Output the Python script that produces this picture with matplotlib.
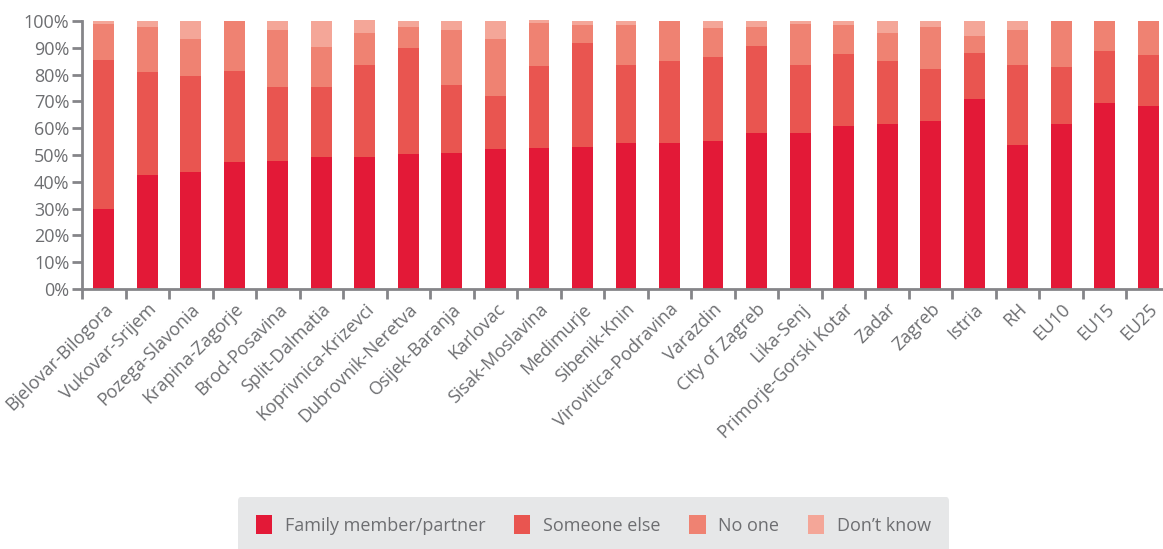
import matplotlib.pyplot as plt
import numpy as np

# data (percent shares)
regions = ['Bjelovar-Bilogora', 'Vukovar-Srijem', 'Pozega-Slavonia', 'Krapina-Zagorje',
           'Brod-Posavina', 'Split-Dalmatia', 'Koprivnica-Krizevci', 'Dubrovnik-Neretva',
           'Osijek-Baranja', 'Karlovac', 'Sisak-Moslavina', 'Medimurje', 'Sibenik-Knin',
           'Virovitica-Podravina', 'Varazdin', 'City of Zagreb', 'Lika-Senj',
           'Primorje-Gorski Kotar', 'Zadar', 'Zagreb', 'Istria', 'RH', 'EU10', 'EU15', 'EU25']
family = [30.0, 42.5, 43.6, 47.3, 47.7, 49.2, 49.2, 50.3, 50.7, 52.2, 52.6, 52.9, 54.4,
          54.4, 55.2, 58.2, 58.2, 60.8, 61.5, 62.6, 70.9, 53.7, 61.5, 69.4, 68.2]
someone = [55.4, 38.4, 35.9, 34.0, 27.6, 26.1, 34.4, 39.6, 25.4, 19.8, 30.6, 38.9, 29.2,
           30.7, 31.4, 32.5, 25.4, 26.9, 23.6, 19.5, 17.1, 29.9, 21.3, 19.4, 19.1]
no_one = [13.5, 17.0, 13.8, 18.7, 21.3, 15.0, 11.9, 7.9, 20.5, 21.3, 16.1, 6.7, 14.9,
          14.9, 10.8, 7.1, 15.3, 10.8, 10.4, 15.7, 6.4, 13.0, 17.2, 11.2, 12.7]
dont_know = [1.1, 2.1, 6.7, 0.0, 3.4, 9.7, 4.9, 2.2, 3.4, 6.7, 1.1, 1.5, 1.5,
             0.0, 2.6, 2.2, 1.1, 1.5, 4.5, 2.2, 5.6, 3.4, 0.0, 0.0, 0.0]

series = [('Family member/partner', family, '#E31937'),
          ('Someone else', someone, '#E95550'),
          ('No one', no_one, '#EF8272'),
          ('Don\u2019t know', dont_know, '#F4A698')]

grey = '#6D6E71'
plt.rcParams['font.family'] = ['Open Sans', 'DejaVu Sans']

fig = plt.figure(figsize=(11.63, 5.49), dpi=100)
ax = fig.add_axes([0.0705, 0.4736, 0.9355, 0.4881])

x = np.arange(len(regions))
bottom = np.zeros(len(regions))
for name, vals, col in series:
    vals = np.array(vals)
    ax.bar(x, vals, 0.48, bottom=bottom, color=col, label=name, clip_on=False)
    bottom += vals

ax.set_xlim(-0.5, len(regions) - 0.5)
ax.set_ylim(0, 100)
ax.set_yticks(np.arange(0, 101, 10))
ax.set_yticklabels(['%d%%' % v for v in range(0, 101, 10)])

ax.set_xticks(x)
ax.set_xticklabels(regions, rotation=45, ha='right', rotation_mode='anchor')
ax.tick_params(axis='x', which='major', length=0, pad=8)
ax.set_xticks(np.arange(-0.5, len(regions)), minor=True)
ax.tick_params(axis='x', which='minor', length=7, width=2, color='#858589')
ax.tick_params(axis='y', length=7, width=2, color='#858589', pad=2)
ax.tick_params(labelsize=13, labelcolor=grey)

for s in ['top', 'right']:
    ax.spines[s].set_visible(False)
for s in ['left', 'bottom']:
    ax.spines[s].set_color('#858589')
    ax.spines[s].set_linewidth(2)

leg = fig.legend(loc='center', bbox_to_anchor=(593.5 / 1163, 1 - 525 / 549), ncol=4,
                 frameon=True, fancybox=True, facecolor='#E6E7E8', edgecolor='none',
                 fontsize=13, labelcolor=grey, handlelength=0.9, handleheight=1.2,
                 handletextpad=0.7, columnspacing=1.6, borderpad=1.0)
leg.get_frame().set_alpha(1)

fig.savefig('out.png', dpi=100)
